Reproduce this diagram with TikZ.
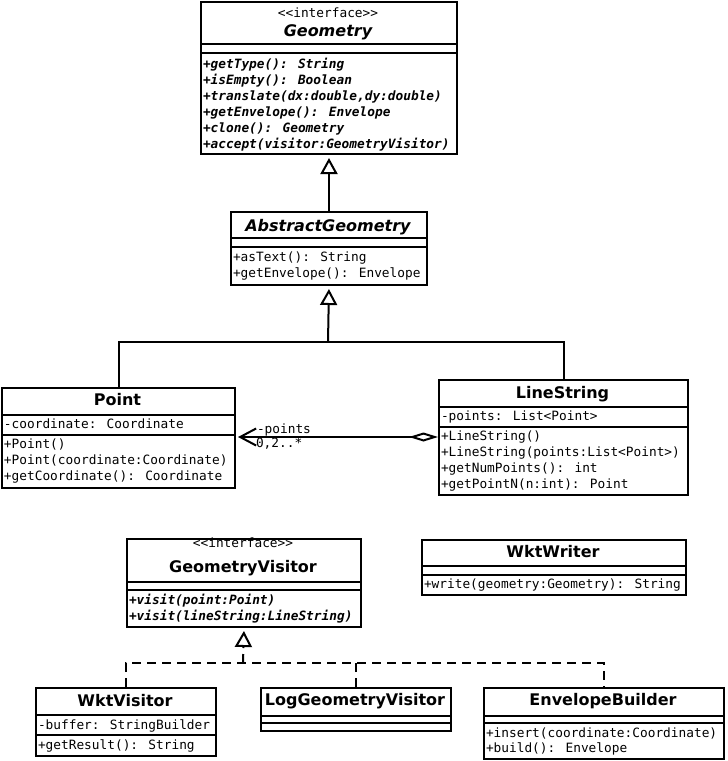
\documentclass[tikz,border=0pt]{standalone}
\usepackage{fontspec}
\newfontfamily\umlsans{DejaVu Sans}[Ligatures=TeXOff]
\newfontfamily\umlmono{DejaVu Sans Mono}[Ligatures=TeXOff]
\usetikzlibrary{arrows.meta}

\begin{document}
\begin{tikzpicture}
        [x=1pt, y=-1pt, line width=2pt,
         cls/.style={draw, rectangle, anchor=north west, inner sep=0pt},
         title/.style={anchor=base, inner sep=0pt, font=\umlsans\fontsize{16}{19}\selectfont\bfseries},
         stereo/.style={anchor=base, inner sep=0pt, font=\umlmono\fontsize{12.8}{15}\selectfont},
         member/.style={anchor=base west, inner sep=0pt, font=\umlmono\fontsize{12.8}{16}\selectfont},
         abstract/.style={member, font=\umlmono\fontsize{12.8}{16}\selectfont\bfseries\itshape},
         inherit/.style={-{Triangle[open,length=16pt,width=17pt]}, shorten >=3pt},
         implement/.style={dashed, dash pattern=on 9pt off 6pt},
         realize/.style={inherit, implement},
         aggregate/.style={{Diamond[open,length=29pt,width=9pt]}-{Straight Barb[length=16pt,width=17pt]}, shorten >=2pt}]
        \useasboundingbox (0,0) rectangle (728,761);

        % class boxes
        \node[cls, minimum width=256pt, minimum height=152pt] (geometry) at (200,1) {};
        \node[cls, minimum width=196pt, minimum height=73pt] (abstractgeo) at (230,211) {};
        \node[cls, minimum width=233pt, minimum height=100pt] (point) at (1,387) {};
        \node[cls, minimum width=249pt, minimum height=115pt] (linestring) at (438,379) {};
        \node[cls, minimum width=234pt, minimum height=88pt] (visitor) at (126,538) {};
        \node[cls, minimum width=264pt, minimum height=55pt] (wktwriter) at (421,539) {};
        \node[cls, minimum width=180pt, minimum height=68pt] (wktvisitor) at (35,687) {};
        \node[cls, minimum width=190pt, minimum height=43pt] (logvisitor) at (260,687) {};
        \node[cls, minimum width=240pt, minimum height=71pt] (envbuilder) at (483,687) {};

        % compartments
        \foreach \l/\r/\y in {200/456/44, 200/456/53, 230/426/238, 230/426/247,
                              1/234/415, 1/234/435, 438/687/407, 438/687/427,
                              126/360/582, 126/360/590, 421/685/566, 421/685/575,
                              35/215/715, 35/215/735, 260/450/716, 260/450/723,
                              483/723/716, 483/723/723}
          \draw (\l,\y) -- (\r,\y);

        % Geometry
        \path node[stereo] (geometry-st) at (328,17) {<<interface>>}
              node[title] (geometry-t) at (328,36) {\itshape Geometry}
              node[abstract] (geometry-m1) at (202,68) {+getType(): String}
              node[abstract] (geometry-m2) at (202,84) {+isEmpty(): Boolean}
              node[abstract] (geometry-m3) at (202,100) {+translate(dx:double,dy:double)}
              node[abstract] (geometry-m4) at (202,116) {+getEnvelope(): Envelope}
              node[abstract] (geometry-m5) at (202,132) {+clone(): Geometry}
              node[abstract] (geometry-m6) at (202,148) {+accept(visitor:GeometryVisitor)};

        % AbstractGeometry
        \path node[title] (abstractgeo-t) at (328,231) {\itshape AbstractGeometry}
              node[member] (abstractgeo-m1) at (232,261) {+asText(): String}
              node[member] (abstractgeo-m2) at (232,277) {+getEnvelope(): Envelope};

        % Point
        \path node[title] (point-t) at (117.5,405) {Point}
              node[member] (point-a1) at (3,428) {-coordinate: Coordinate}
              node[member] (point-m1) at (3,448) {+Point()}
              node[member] (point-m2) at (3,464) {+Point(coordinate:Coordinate)}
              node[member] (point-m3) at (3,480) {+getCoordinate(): Coordinate};

        % LineString
        \path node[title] (linestring-t) at (562.5,398) {LineString}
              node[member] (linestring-a1) at (440,420) {-points: List<Point>}
              node[member] (linestring-m1) at (440,440) {+LineString()}
              node[member] (linestring-m2) at (440,456) {+LineString(points:List<Point>)}
              node[member] (linestring-m3) at (440,472) {+getNumPoints(): int}
              node[member] (linestring-m4) at (440,488) {+getPointN(n:int): Point};

        % GeometryVisitor
        \path node[stereo] (visitor-st) at (243,547) {<<interface>>}
              node[title] (visitor-t) at (243,572) {GeometryVisitor}
              node[abstract] (visitor-m1) at (128,604) {+visit(point:Point)}
              node[abstract] (visitor-m2) at (128,620) {+visit(lineString:LineString)};

        % WktWriter
        \path node[title] (wktwriter-t) at (553,557) {WktWriter}
              node[member] (wktwriter-m1) at (423,588) {+write(geometry:Geometry): String};

        % visitors
        \path node[title] (wktvisitor-t) at (125,706) {WktVisitor}
              node[member] (wktvisitor-a1) at (37,729) {-buffer: StringBuilder}
              node[member] (wktvisitor-m1) at (37,749) {+getResult(): String}
              node[title] (logvisitor-t) at (355,705) {LogGeometryVisitor}
              node[title] (envbuilder-t) at (603,705) {EnvelopeBuilder}
              node[member] (envbuilder-m1) at (485,737) {+insert(coordinate:Coordinate)}
              node[member] (envbuilder-m2) at (485,752) {+build(): Envelope};

        % generalization
        \coordinate (fork) at (328,342);
        \draw[inherit] (abstractgeo.north) -- (geometry.south);
        \draw[inherit] (fork) -- (abstractgeo.south);
        \draw (point.north) |- (fork) -| (linestring.north);

        % aggregation
        \draw[aggregate] (linestring.west |- 0,437) -- (point.east |- 0,437);
        \path node[member] (points-role) at (256,433) {-points}
              node[member] (points-mult) at (255,447) {0,2..*};

        % realization
        \coordinate (vfork) at (243,663);
        \draw[realize] (vfork) -- (visitor.south);
        \draw[implement] (wktvisitor.north) |- (vfork) -| (envbuilder.north);
        \draw[implement] (logvisitor.north) -- (logvisitor.north |- vfork);
      \end{tikzpicture}
\end{document}
